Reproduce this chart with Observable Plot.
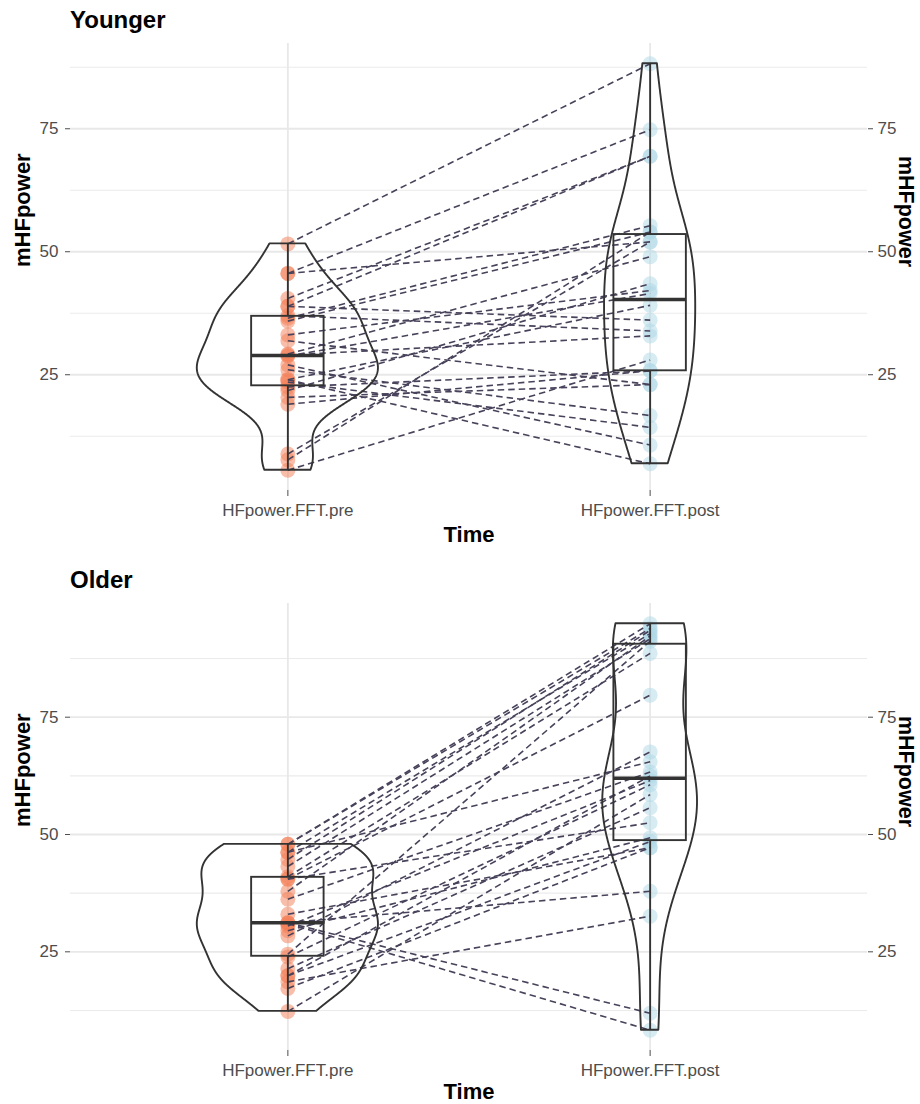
<!DOCTYPE html>
<html><head><meta charset="utf-8">
<script src="https://cdn.jsdelivr.net/npm/d3@7"></script>
<script src="https://cdn.jsdelivr.net/npm/@observablehq/plot@0.6"></script>
<style>
body{margin:0;background:#fff;font-family:"Liberation Sans",Arial,sans-serif;}
#wrap{position:relative;width:920px;height:1104px;overflow:hidden;background:#fff}
.title{position:absolute;left:70px;font-weight:bold;font-size:24px;line-height:1;color:#000;white-space:nowrap}
.panel{position:absolute;left:0}
</style></head><body><div id="wrap"></div>
<script>
// ---- data (paired by subject) ----
const timeLabels = ["HFpower.FFT.pre", "HFpower.FFT.post"];
const panelTitles = ["Younger", "Older"];
const yTicks = [25, 50, 75];
const youngerPre  = [51.6,45.6,45.6,40.5,38.9,38.9,37.0,36.5,35.9,33.1,31.9,29.2,29.0,28.8,27.0,26.0,24.0,24.0,23.5,22.5,21.8,20.4,19.0,8.9,7.7,5.6];
const youngerPost = [88.2,74.8,52.0,69.4,69.4,36.1,33.9,55.3,54.0,42.1,23.0,49.0,32.9,41.5,10.7,16.7,6.9,39.1,14.3,25.8,43.5,23.0,25.8,52.0,54.0,28.0];
const olderPre    = [47.9,47.9,46.2,46.2,44.7,43.2,41.0,40.5,40.5,37.9,36.2,33.0,31.2,31.2,31.0,30.5,29.5,28.4,24.5,23.9,21.4,19.9,19.9,18.6,17.2,12.3];
const olderPost   = [94.9,93.9,92.8,65.5,93.5,91.7,88.6,79.7,52.5,92.3,63.3,47.2,11.9,37.9,8.3,61.5,49.3,67.6,91.2,60.6,55.7,62.5,48.5,32.6,47.2,58.5];

const preColor = "#F47E55", postColor = "#ADD8E6";
const ink = "#333333";

function stats(vals) {
  const s = vals.slice().sort(d3.ascending), n = s.length;
  const q1 = d3.quantile(s, 0.25), med = d3.quantile(s, 0.5), q3 = d3.quantile(s, 0.75);
  const iqr = q3 - q1;
  const lo = d3.min(s.filter(v => v >= q1 - 1.5 * iqr));
  const hi = d3.max(s.filter(v => v <= q3 + 1.5 * iqr));
  const sd = d3.deviation(s);
  const bw = 0.9 * Math.min(sd, iqr / 1.34) * Math.pow(n, -0.2);
  const mn = s[0], mx = s[n - 1];
  const dens = d3.range(512).map(i => {
    const y = mn + (mx - mn) * i / 511;
    const d = d3.mean(s, v => Math.exp(-0.5 * ((y - v) / bw) ** 2)) / (bw * Math.sqrt(2 * Math.PI));
    return {y, d};
  });
  return {q1, med, q3, lo, hi, dens};
}

function panel(pre, post, timeDy) {
  const all = pre.concat(post);
  const mn = d3.min(all), mx = d3.max(all), r = mx - mn;
  const domain = [mn - 0.05 * r, mx + 0.05 * r];
  const groups = [{x: 1, v: pre}, {x: 2, v: post}].map(g => Object.assign(g, stats(g.v)));
  const maxD = d3.max(groups, g => d3.max(g.dens, p => p.d));
  const violin = groups.flatMap(g => g.dens.map(p => ({g: g.x, y: p.y, x1: g.x - 0.25 * p.d / maxD, x2: g.x + 0.25 * p.d / maxD})));
  const pairs = pre.map((v, i) => ({a: v, b: post[i]}));
  const dots = pre.map(v => ({x: 1, y: v, t: "pre"})).concat(post.map(v => ({x: 2, y: v, t: "post"})));
  const boxW = 0.1;
  const whisk = groups.flatMap(g => [{x: g.x, y1: g.lo, y2: g.q1}, {x: g.x, y1: g.q3, y2: g.hi}]);
  return Plot.plot({
    width: 920, height: 516,
    marginTop: 7, marginBottom: 62, marginLeft: 70, marginRight: 53,
    style: {fontFamily: "Liberation Sans, Arial, sans-serif", fontSize: "17px", background: "white", overflow: "visible"},
    x: {domain: [0.4, 2.6], axis: null},
    y: {domain, axis: null},
    marks: [
      Plot.ruleY([12.5, 37.5, 62.5, 87.5].filter(v => v > domain[0] && v < domain[1]), {stroke: "#ebebeb", strokeWidth: 1.1}),
      Plot.ruleY(yTicks, {stroke: "#e8e8e8", strokeWidth: 1.8}),
      Plot.ruleX([1, 2], {stroke: "#e8e8e8", strokeWidth: 1.8}),
      Plot.axisY({anchor: "left", ticks: yTicks, tickSize: 5, tickPadding: 7, label: null, color: "#4d4d4d", fontSize: 17}),
      Plot.axisY({anchor: "right", ticks: yTicks, tickSize: 5, tickPadding: 5, label: null, color: "#4d4d4d", fontSize: 17}),
      Plot.axisX({anchor: "bottom", ticks: [1, 2], tickFormat: d => timeLabels[d - 1], tickSize: 6, tickPadding: 7, label: null, color: "#4d4d4d", fontSize: 17}),
      Plot.dot(dots, {x: "x", y: "y", r: 7.5, fill: d => d.t === "pre" ? preColor : postColor, fillOpacity: 0.5, stroke: "none"}),
      Plot.link(pairs, {x1: () => 1, y1: "a", x2: () => 2, y2: "b", stroke: "#48425a", strokeWidth: 1.6, strokeDasharray: "6.5,4"}),
      Plot.areaX(violin, {y: "y", x1: "x1", x2: "x2", z: "g", fill: "none", stroke: ink, strokeWidth: 1.9, curve: "linear"}),
      Plot.ruleX(whisk, {x: "x", y1: "y1", y2: "y2", stroke: ink, strokeWidth: 1.9}),
      Plot.rect(groups, {x1: g => g.x - boxW, x2: g => g.x + boxW, y1: "q1", y2: "q3", fill: "none", stroke: ink, strokeWidth: 1.9}),
      Plot.ruleY(groups, {x1: g => g.x - boxW, x2: g => g.x + boxW, y: "med", stroke: ink, strokeWidth: 3.6}),
      Plot.text(["mHFpower"], {frameAnchor: "left", dx: -48, rotate: -90, text: d => d, fontWeight: "bold", fontSize: 22, fill: "black"}),
      Plot.text(["mHFpower"], {frameAnchor: "right", dx: 38, rotate: 90, text: d => d, fontWeight: "bold", fontSize: 21.5, fill: "black"}),
      Plot.text(["Time"], {frameAnchor: "bottom", dy: timeDy, text: d => d, fontWeight: "bold", fontSize: 22, fill: "black"})
    ]
  });
}

const wrap = document.getElementById("wrap");
[[youngerPre, youngerPost, 51], [olderPre, olderPost, 48]].forEach(([a, b, dy], i) => {
  const t = document.createElement("div");
  t.className = "title";
  t.style.top = (8 + i * 560) + "px";
  t.textContent = panelTitles[i];
  wrap.appendChild(t);
  const svg = panel(a, b, dy);
  svg.classList.add("panel");
  svg.style.position = "absolute";
  svg.style.top = (36 + i * 560) + "px";
  svg.style.left = "0px";
  wrap.appendChild(svg);
});
</script>
</body></html>
